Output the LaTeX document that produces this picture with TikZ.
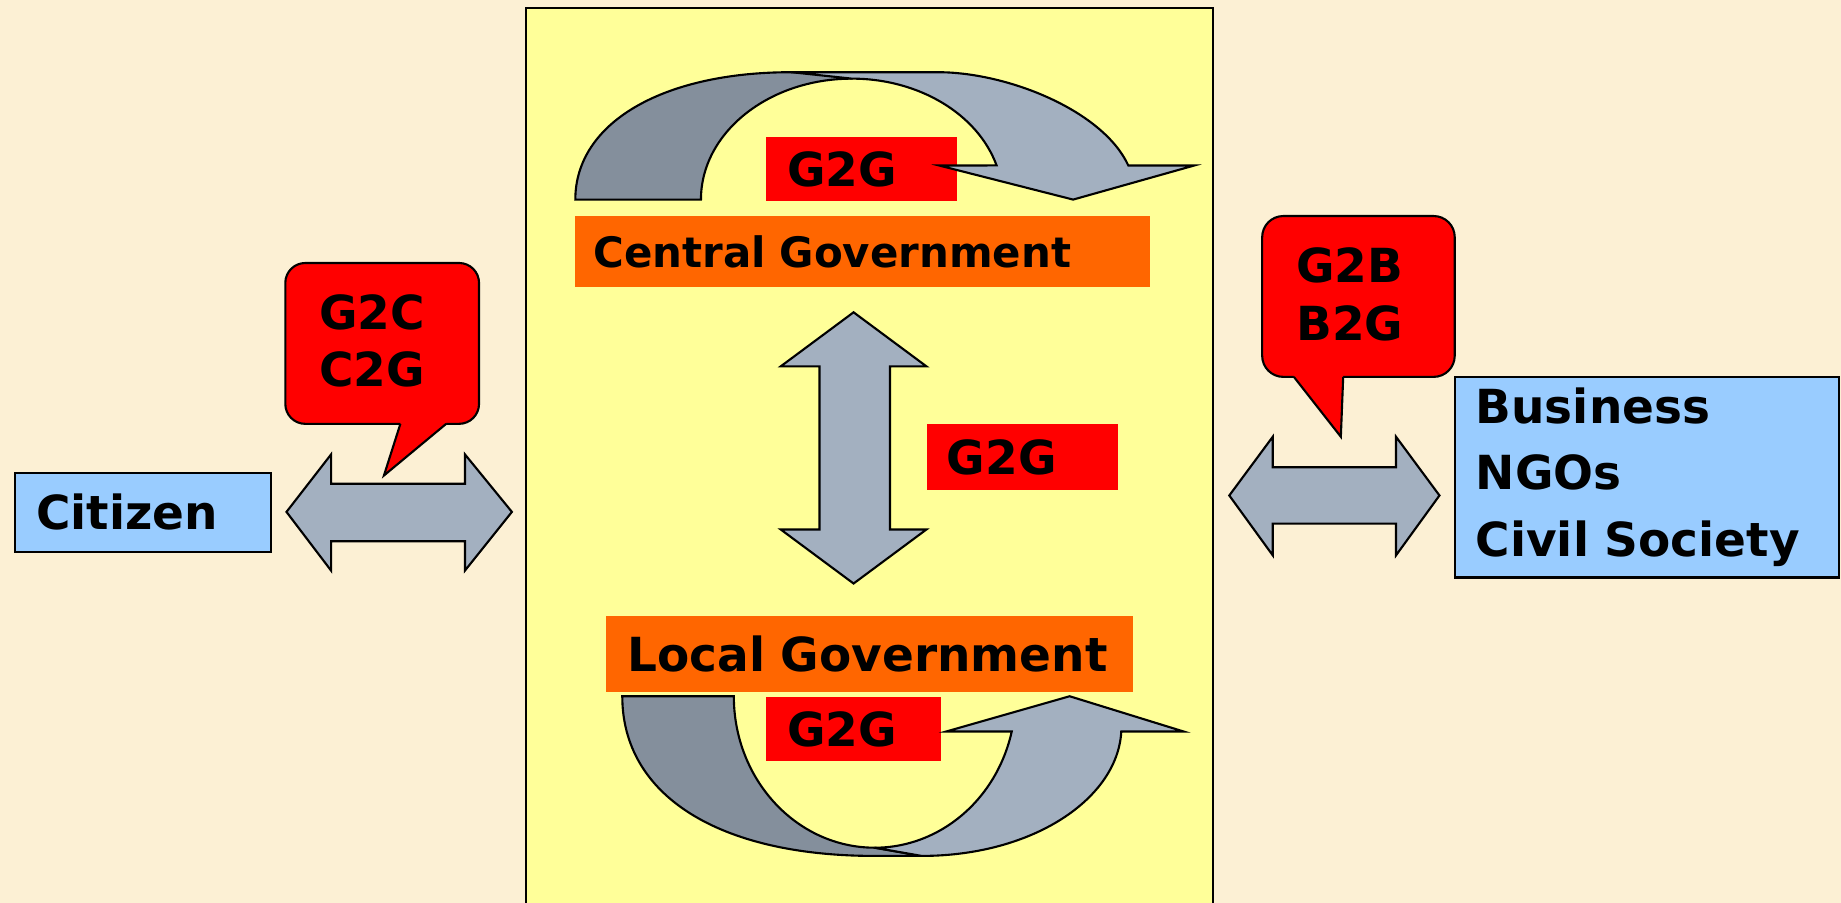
\documentclass[tikz,border=0pt]{standalone}
\usepackage{fontspec}
\setmainfont{DejaVu Sans}

\definecolor{paper}{RGB}{252,240,212}
\definecolor{panelyellow}{RGB}{255,255,153}
\definecolor{govorange}{RGB}{255,102,0}
\definecolor{tagred}{RGB}{255,0,0}
\definecolor{partyblue}{RGB}{153,204,255}
\definecolor{arrowgrey}{RGB}{163,176,192}
\definecolor{arrowdark}{RGB}{132,143,156}

\tikzset{
  lbl/.style={font=\fontsize{20}{28.5}\selectfont\bfseries, text=black},
  govbox/.style={lbl, fill=govorange, anchor=north west, inner xsep=9pt, inner ysep=0pt, align=left},
  tagbox/.style={lbl, fill=tagred, anchor=north west, inner xsep=9pt, inner ysep=0pt, align=left},
  partybox/.style={lbl, fill=partyblue, draw=black, line width=0.9pt, anchor=north west, inner xsep=9pt, inner ysep=0pt, align=left},
  bubble/.style={fill=tagred, draw=black, line width=0.9pt},
  blockarrow/.style={fill=arrowgrey, draw=black, line width=0.9pt, line join=miter},
  backarrow/.style={blockarrow, fill=arrowdark},
}

\begin{document}
\begin{tikzpicture}[x=0.5pt,y=-0.5pt]
    \useasboundingbox (0,0) rectangle (1568,769);
    \clip (0,0) rectangle (1568,769);
    \fill[paper] (0,0) rectangle (1568,769);
    \draw[fill=panelyellow, line width=0.9pt] (448,7) rectangle (1033,790);

    \node[tagbox, minimum height=27.5pt, text width=63.5pt] (g2gtop) at (652,116) {G2G};
    \node[tagbox, minimum height=28pt, text width=64.5pt, inner xsep=8.5pt] (g2gmid) at (789,361) {G2G};
    \node[tagbox, minimum height=27.5pt, text width=56.5pt] (g2gbot) at (652,593) {G2G};

    % top loop
    \draw[backarrow] (490,170) .. controls (490,105) and (563.6,61.5) .. (674,61.5) -- (730,61.5) -- (725.5,67) arc[start angle=90, end angle=180, x radius=64.25pt, y radius=51.5pt] -- cycle;
    \draw[blockarrow] (674,61.5) -- (800,61.5) .. controls (860,62) and (940,95) .. (961,141) -- (1017,141) -- (914,170) -- (800,141) -- (848.8,140.9) arc[start angle=16.4, end angle=90, x radius=64.25pt, y radius=51.5pt] -- cycle;

    % bottom loop
    \draw[backarrow] (530,593) .. controls (530,677.3) and (611.7,729) .. (745,729) -- (785,729) -- (745,722) arc[start angle=270, end angle=180, x radius=60pt, y radius=64.5pt] -- cycle;
    \draw[blockarrow] (745,722) arc[start angle=270, end angle=346.55, x radius=60pt, y radius=64.5pt] -- (806,623) -- (911,593) -- (1008,623) -- (955,623) .. controls (952,680) and (880,729) .. (785,729) -- cycle;

    \node[govbox, minimum height=30pt, text width=229pt, inner xsep=8pt, font=\fontsize{17.85}{20}\selectfont\bfseries] (central) at (489,184) {Central Government};
    \node[govbox, minimum height=32.5pt, text width=206.5pt] (local) at (516,524) {Local Government};

    % up and down
    \draw[blockarrow] (727,266) -- (789,312) -- (758,312) -- (758,451) -- (789,451) -- (727,497) -- (665,451) -- (698,451) -- (698,312) -- (665,312) -- cycle;

    % citizen side
    \node[partybox, minimum height=33.5pt, text width=91pt] (citizen) at (12,402) {Citizen};
    \draw[blockarrow] (244,436) -- (282,387) -- (282,412) -- (396,412) -- (396,387) -- (436,436) -- (396,486) -- (396,461) -- (282,461) -- (282,486) -- cycle;
    \draw[bubble, rounded corners=8.5pt] (243,224) rectangle (408,361);
    \fill[tagred] (341,356) -- (341,361) -- (327,405) -- (380,361) -- (380,356) -- cycle;
    \draw[line width=0.9pt, line join=miter] (341,361) -- (327,405) -- (380,361);
    \node[lbl, anchor=base west] (g2c) at (265,281) {G2C};
    \node[lbl, anchor=base west] (c2g) at (265,329) {C2G};

    % business side
    \node[partybox, minimum height=85.5pt, text width=145.5pt] (business) at (1238,320) {Business\\NGOs\\Civil Society};
    \draw[blockarrow] (1047,422) -- (1084,372) -- (1084,398) -- (1189,398) -- (1189,372) -- (1226,422) -- (1189,473) -- (1189,446) -- (1084,446) -- (1084,473) -- cycle;
    \draw[bubble, rounded corners=9pt] (1075,184) rectangle (1239,321);
    \fill[tagred] (1102,316) -- (1102,321) -- (1142,372) -- (1144,321) -- (1144,316) -- cycle;
    \draw[line width=0.9pt, line join=miter] (1102,321) -- (1142,372) -- (1144,321);
    \node[lbl, anchor=base west] (g2b) at (1097,241) {G2B};
    \node[lbl, anchor=base west] (b2g) at (1097,290) {B2G};
\end{tikzpicture}
\end{document}
